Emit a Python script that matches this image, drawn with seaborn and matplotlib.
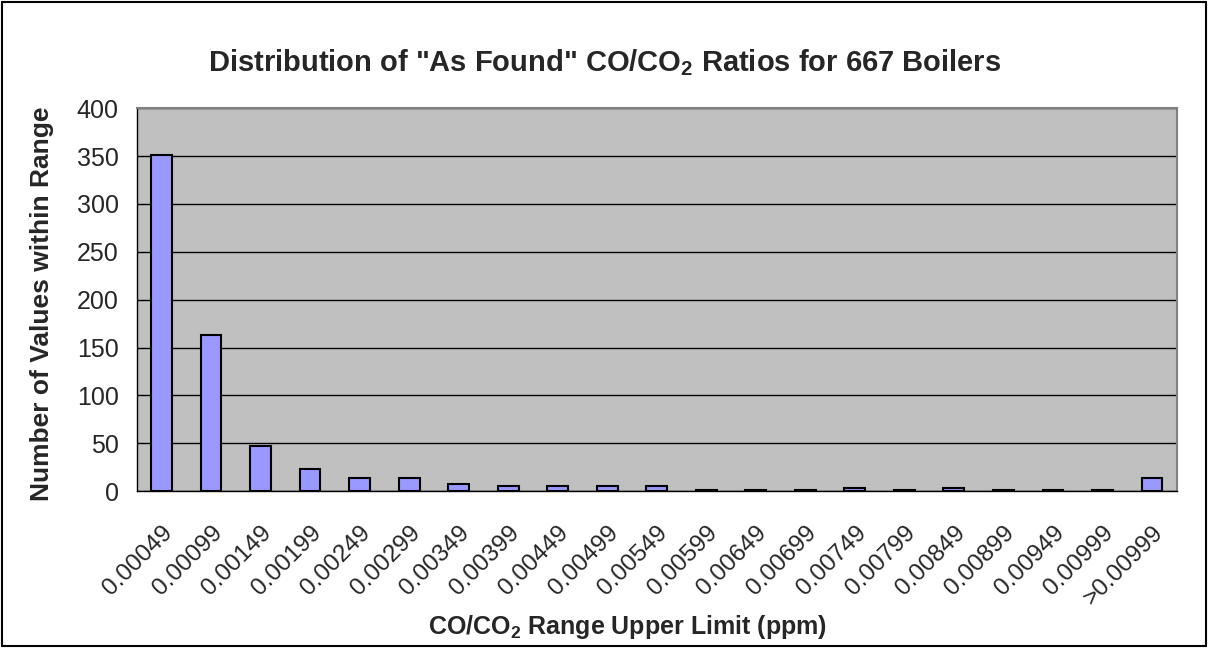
import matplotlib
matplotlib.use("Agg")
import numpy as np
import pandas as pd
import matplotlib.pyplot as plt
import seaborn as sns
from matplotlib.patches import Rectangle

# Upper limit of each CO/CO2 range and boiler counts
ranges = ["0.00049", "0.00099", "0.00149", "0.00199", "0.00249", "0.00299",
          "0.00349", "0.00399", "0.00449", "0.00499", "0.00549", "0.00599",
          "0.00649", "0.00699", "0.00749", "0.00799", "0.00849", "0.00899",
          "0.00949", "0.00999", ">0.00999"]
counts = [351, 163, 47, 23, 14, 14, 8, 5, 5, 5, 5, 1, 1, 1, 3, 1, 3, 1, 1, 1, 14]
y_ticks = [0, 50, 100, 150, 200, 250, 300, 350, 400]

df = pd.DataFrame({"range": ranges, "count": counts})

sns.set_style("white")
plt.rcParams["font.family"] = ["Liberation Sans", "DejaVu Sans"]
plt.rcParams["mathtext.fontset"] = "custom"
plt.rcParams["mathtext.rm"] = "Liberation Sans"
plt.rcParams["mathtext.bf"] = "Liberation Sans:bold"

fig = plt.figure(figsize=(12.1, 6.48), dpi=100)
ax = fig.add_axes([0.113, 0.242, 0.8595, 0.591])

sns.barplot(data=df, x="range", y="count", color="#9999FF", saturation=1,
            edgecolor="black", linewidth=1.5, width=0.42, ax=ax)

ax.set_facecolor("#C0C0C0")
ax.set_ylim(0, 400)
ax.set_xlim(-0.5, len(ranges) - 0.5)
ax.set_yticks(y_ticks)
ax.yaxis.grid(True, color="black", linewidth=1)
ax.set_axisbelow(True)
for side in ["top", "right"]:
    ax.spines[side].set_color("#808080")
    ax.spines[side].set_linewidth(1.5)
for side in ["left", "bottom"]:
    ax.spines[side].set_color("black")
    ax.spines[side].set_linewidth(1)

# Excel style: ticks sit between categories
ax.set_xticks(np.arange(len(ranges) + 1) - 0.5, minor=True)
ax.tick_params(axis="x", which="minor", length=7, width=1, color="black", direction="out")
ax.tick_params(axis="x", which="major", length=0, pad=22)
ax.tick_params(axis="y", length=7, width=1, color="black", direction="out", labelsize=18, pad=6)
ax.set_xticks(range(len(ranges)))
ax.set_xticklabels(ranges, rotation=45, ha="right", rotation_mode="anchor", fontsize=17.5)

ax.set_xlabel(r"CO/CO$\mathbf{_2}$ Range Upper Limit (ppm)", fontsize=18, fontweight="bold",
              va="center")
ax.xaxis.set_label_coords(0.472, -0.355)
ax.set_ylabel("Number of Values within Range", fontsize=19, fontweight="bold", va="center")
ax.yaxis.set_label_coords(-0.0913, 0.49)
fig.suptitle(r'Distribution of "As Found" CO/CO$\mathbf{_2}$ Ratios for 667 Boilers',
             fontsize=21, fontweight="bold", x=0.5, y=0.903, va="center")

# border around the whole chart
fig.patches.append(Rectangle((0.002, 0.003), 0.995, 0.994, transform=fig.transFigure,
                             fill=False, edgecolor="black", linewidth=1.5))

fig.savefig("out.png", dpi=100)
